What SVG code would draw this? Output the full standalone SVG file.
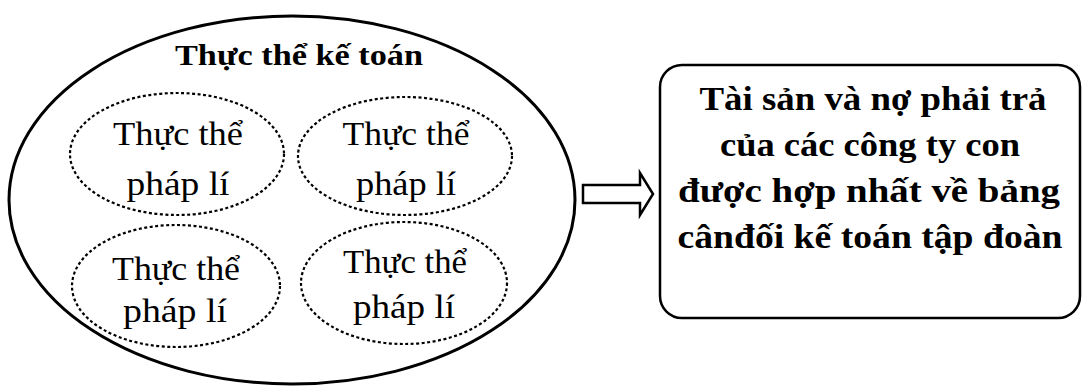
<svg xmlns="http://www.w3.org/2000/svg" width="1087" height="387" viewBox="0 0 1087 387">
  <style>
    .big { fill: none; stroke: #000; stroke-width: 3; }
    .small { fill: none; stroke: #000; stroke-width: 2.2; stroke-dasharray: 3 2.5; }
    .t { font-family: "Liberation Serif", "DejaVu Serif", serif; fill: #000; text-anchor: middle; }
    .title { font-size: 30px; font-weight: bold; }
    .lbl { font-size: 33px; }
    .box { fill: #fff; stroke: #000; stroke-width: 2.5; }
    .boxt { font-size: 33px; font-weight: bold; }
    .arrow { fill: #fff; stroke: #000; stroke-width: 2.5; stroke-linejoin: miter; }
  </style>
  <rect width="1087" height="387" fill="#fff"/>
  <g id="accounting-entity">
    <ellipse class="big" cx="292" cy="200" rx="283" ry="184"/>
    <text class="t title" x="299" y="65" textLength="248" lengthAdjust="spacingAndGlyphs">Thực thể kế toán</text>
  </g>
  <g id="legal-entity-1">
    <ellipse class="small" cx="177" cy="154" rx="107" ry="61"/>
    <text class="t lbl" x="178" y="145" textLength="130" lengthAdjust="spacingAndGlyphs">Thực thể</text>
    <text class="t lbl" x="178" y="195" textLength="103" lengthAdjust="spacingAndGlyphs">pháp lí</text>
  </g>
  <g id="legal-entity-2">
    <ellipse class="small" cx="405" cy="156" rx="107" ry="59"/>
    <text class="t lbl" x="406" y="145" textLength="127" lengthAdjust="spacingAndGlyphs">Thực thể</text>
    <text class="t lbl" x="406" y="195" textLength="100" lengthAdjust="spacingAndGlyphs">pháp lí</text>
  </g>
  <g id="legal-entity-3">
    <ellipse class="small" cx="176" cy="286" rx="104" ry="61"/>
    <text class="t lbl" x="176" y="280" textLength="128" lengthAdjust="spacingAndGlyphs">Thực thể</text>
    <text class="t lbl" x="175" y="322" textLength="104" lengthAdjust="spacingAndGlyphs">pháp lí</text>
  </g>
  <g id="legal-entity-4">
    <ellipse class="small" cx="404" cy="283" rx="103" ry="61"/>
    <text class="t lbl" x="405" y="273" textLength="124" lengthAdjust="spacingAndGlyphs">Thực thể</text>
    <text class="t lbl" x="404" y="318" textLength="102" lengthAdjust="spacingAndGlyphs">pháp lí</text>
  </g>
  <g id="connectors">
    <path class="arrow" d="M583,185 L640,185 L640,173 L653,194 L640,215 L640,203 L583,203 Z"/>
  </g>
  <g id="consolidated-box">
    <rect class="box" x="660" y="65" width="420" height="253" rx="22" ry="22"/>
    <text class="t boxt" x="873" y="110" textLength="347" lengthAdjust="spacingAndGlyphs">Tài sản và nợ phải trả</text>
    <text class="t boxt" x="870" y="156" textLength="300" lengthAdjust="spacingAndGlyphs">của các công ty con</text>
    <text class="t boxt" x="869" y="202" textLength="382" lengthAdjust="spacingAndGlyphs">được hợp nhất về bảng</text>
    <text class="t boxt" x="870" y="248" textLength="385" lengthAdjust="spacingAndGlyphs">cânđối kế toán tập đoàn</text>
  </g>
</svg>
